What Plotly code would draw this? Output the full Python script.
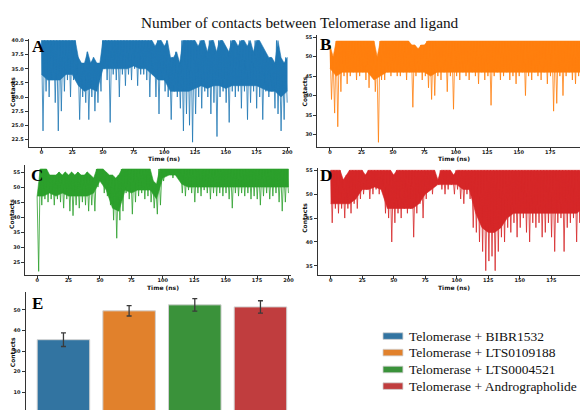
import numpy as np
import plotly.graph_objects as go

W, H = 583, 410

# ---------------- data ----------------
# Time series: per 2.5-ns window, the upper and lower contact counts
time_start_ns, time_end_ns = 0, 200

hi_A = [40, 40, 40, 40, 40, 40, 40, 40, 40, 40, 40, 40, 37, 36, 36, 38, 36, 37, 36, 36,
        40, 40, 40, 40, 40, 40, 40, 40, 40, 40, 40, 40, 40, 40, 40, 40, 40, 39, 40, 40,
        39, 40, 37, 37, 38, 36, 40, 40, 40, 40, 40, 39, 40, 40, 38, 40, 40, 38, 40, 40,
        39, 38, 40, 40, 39, 40, 40, 39, 40, 38, 40, 40, 39, 38, 37, 37, 36, 40, 37, 36, 37]
lo_A = [24, 31, 30, 33, 29, 24, 27.5, 31, 33, 30, 33, 34, 26, 30, 29, 26, 30, 27.5, 29, 31,
        35, 33, 25.5, 34, 33, 30, 34, 32, 34, 33, 35, 32, 34, 34, 33, 30, 34, 30, 27, 33,
        31, 30, 26, 31, 30, 28, 24, 27, 25, 22, 27, 30, 28, 31, 30, 27, 29, 23, 30, 31,
        29, 25.5, 31, 30, 31, 28, 31, 26, 29, 31, 28, 30, 26, 31, 30, 31, 28, 27, 24, 26, 29]
# lower edge of the dense band, every 5 ns
core_A = [34, 33, 33, 33, 34, 34, 32, 31, 31.5, 31, 35, 35, 35, 35, 35, 35.5, 35, 35, 34, 33,
          33, 31, 31, 31, 31, 31.5, 32, 31.5, 32, 32, 31.5, 32, 32, 32, 32, 32, 31.5, 31, 31,
          30, 31]

hi_B = [53, 50, 54, 54, 54, 54, 54, 54, 54, 54, 54, 54, 54, 54, 54, 50, 54, 54, 54, 54,
        54, 54, 54, 54, 54, 54, 53, 53, 52, 53, 53, 54, 54, 54, 54, 54, 54, 54, 54, 54,
        54, 54, 54, 54, 54, 54, 54, 54, 54, 54, 54, 54, 54, 54, 54, 54, 54, 54, 54, 54,
        54, 54, 54, 54, 54, 54, 54, 54, 54, 54, 54, 54, 54, 54, 54, 54, 54, 54, 54, 54, 54]
lo_B = [39, 35.5, 32, 41, 45, 43, 45, 46, 44, 45, 46, 44, 42, 46, 41, 28, 44, 44, 46, 45,
        46, 45, 45, 46, 44, 46, 37, 45, 46, 44, 45, 42, 39, 40, 45, 44, 46, 41, 45, 36.5,
        45, 44, 46, 45, 44, 46, 45, 43, 46, 44, 45, 37.5, 45, 46, 44, 45, 46, 44, 45, 43,
        45, 46, 40, 45, 44, 46, 45, 44, 46, 43, 45, 36, 38, 45, 40, 45, 46, 44, 43, 45, 44]
core_B = [47, 45, 46, 46, 46, 46, 46, 44, 45, 46, 46, 46, 46, 46, 46, 46, 45, 46, 46, 46,
          46, 46, 46, 46, 46, 46, 46, 46, 46, 46, 46, 46, 46, 46, 46, 46, 46, 46, 46, 46, 46]

hi_C = [47, 56, 56, 56, 54, 54, 54, 55, 54, 55, 54, 55, 54, 55, 54, 54, 55, 54, 53, 56,
        56, 56, 55, 54, 54, 53, 54, 56, 56, 56, 56, 56, 56, 56, 56, 56, 56, 52, 51, 56,
        56, 56, 56, 56, 56, 56, 56, 56, 56, 56, 56, 56, 56, 56, 56, 56, 56, 56, 56, 56,
        56, 56, 56, 56, 56, 56, 56, 56, 56, 56, 56, 56, 56, 56, 56, 56, 56, 56, 56, 56, 56]
lo_C = [22, 44, 46, 45, 46, 44, 46, 45, 43, 46, 42, 40.5, 44, 43, 45, 44, 42, 44, 42, 50,
        52, 48, 47, 44, 39, 33, 39, 42, 48, 46, 41, 45, 47, 48, 46, 47, 45, 43, 41, 44,
        52, 54, 54, 53, 54, 53, 48, 47, 49, 48, 45, 48, 47, 49, 48, 46, 48, 47, 48, 47,
        48, 46, 43, 48, 47, 48, 47, 48, 46, 47, 46, 44, 47, 48, 46, 47, 48, 45, 42, 45, 48]
core_C = [47, 47, 48, 47, 48, 47, 47, 47, 47, 48, 52, 49, 43, 42, 49, 48, 49, 49, 49, 46,
          53, 54, 54, 51, 50, 50, 50, 50, 50, 50, 50, 50, 50, 50, 50, 50, 50, 50, 50, 50, 50]

hi_D = [55, 55, 55, 55, 53, 54, 55, 55, 55, 55, 55, 54, 55, 55, 55, 55, 55, 55, 55, 55,
        54, 55, 55, 55, 55, 55, 55, 55, 55, 55, 55, 55, 55, 55, 53, 55, 55, 55, 55, 54,
        55, 55, 55, 55, 55, 55, 55, 55, 55, 55, 55, 55, 55, 55, 55, 55, 55, 55, 55, 55,
        55, 55, 55, 55, 55, 55, 55, 55, 55, 55, 55, 55, 55, 55, 55, 55, 55, 55, 55, 55, 55]
lo_D = [44, 47, 46, 47, 45, 47, 46, 48, 47, 49, 50, 51, 49, 50, 51, 50, 51, 46, 45, 40,
        44, 46, 45, 47, 46, 47, 41, 46, 48, 45, 49, 51, 50, 52, 52, 51, 50, 51, 52, 50,
        51, 49, 48, 50, 49, 43, 42, 40, 38, 34, 36, 37, 34, 38, 41, 40, 43, 42, 44, 41,
        43, 45, 42, 40, 44, 43, 44, 41, 42, 44, 41, 38, 44, 45, 38, 43, 44, 45, 40, 44, 45]
core_D = [48, 48, 48, 48, 49, 51, 51, 51.5, 51, 47, 47, 47, 47, 47, 48, 50, 51, 52, 52, 52,
          52, 51, 51, 46, 43, 42, 42, 43, 45, 46, 46, 46, 46, 46, 46, 46, 46, 46, 46, 46, 47]

x_ticks = [0, 25, 50, 75, 100, 125, 150, 175, 200]

# Bar panel
ligands = ["Telomerase + BIBR1532", "Telomerase + LTS0109188",
           "Telomerase + LTS0004521", "Telomerase + Andrographolide"]
mean_contacts = [35.5, 49.5, 52.4, 51.4]
sd_contacts = [3.3, 2.5, 3.0, 3.0]

line_colors = ["#1f77b4", "#ff7f0e", "#2ca02c", "#d62728"]
bar_colors = ["#3274a1", "#e1812c", "#3a923a", "#c03d3e"]
panel_letters = ["A", "B", "C", "D", "E"]


# ---------------- helpers ----------------
def xd(a, b):
    return [a / W, b / W]


def yd(top, bottom):
    return [1 - bottom / H, 1 - top / H]


def zigzag(hi, lo):
    ys = []
    for h, l in zip(hi, lo):
        ys += [h, l]
    xs = np.linspace(time_start_ns, time_end_ns, len(ys))
    return xs, ys


def band(hi, core):
    t_hi = np.linspace(time_start_ns, time_end_ns, len(hi))
    t_core = np.linspace(time_start_ns, time_end_ns, len(core))
    xs = list(t_hi) + list(t_core[::-1])
    ys = list(hi) + list(core[::-1])
    return xs, ys


tickfont = dict(family="DejaVu Sans", size=5, color="#222", weight="bold")
axis_common = dict(showline=True, linecolor="#333", linewidth=1, ticks="outside",
                   ticklen=3, tickwidth=0.8, tickcolor="#333", tickfont=tickfont,
                   showgrid=False, zeroline=False)

fig = go.Figure()

series = [(hi_A, lo_A, core_A), (hi_B, lo_B, core_B),
          (hi_C, lo_C, core_C), (hi_D, lo_D, core_D)]
for i, (hi, lo, core) in enumerate(series):
    suffix = "" if i == 0 else str(i + 1)
    bx, by = band(hi, core)
    fig.add_trace(go.Scatter(x=bx, y=by, mode="lines", fill="toself",
                             fillcolor=line_colors[i],
                             line=dict(color=line_colors[i], width=0.6),
                             xaxis="x" + suffix, yaxis="y" + suffix,
                             showlegend=False, hoverinfo="skip"))
    xs, ys = zigzag(hi, lo)
    fig.add_trace(go.Scatter(x=xs, y=ys, mode="lines",
                             line=dict(color=line_colors[i], width=0.8),
                             xaxis="x" + suffix, yaxis="y" + suffix,
                             showlegend=False, hoverinfo="skip"))

fig.add_trace(go.Bar(x=list(range(len(ligands))), y=mean_contacts,
                     marker=dict(color=bar_colors, line=dict(color="#d0d0d0", width=1)),
                     width=0.8,
                     error_y=dict(type="data", array=sd_contacts, color="#3a3a3a",
                                  thickness=1.3, width=2.5),
                     xaxis="x5", yaxis="y5", showlegend=False, hoverinfo="skip"))

# ---------------- layout ----------------
panels = {
    "1": (xd(29, 292), yd(37, 146), [-10.3, 202.7], [21.1, 40.3],
          [22.5, 25, 27.5, 30, 32.5, 35, 37.5, 40], ".1f"),
    "2": (xd(319, 583), yd(33, 145.7), [-10.0, 198.6], [26.8, 55.6],
          [30, 35, 40, 45, 50, 55], "d"),
    "3": (xd(25.3, 293), yd(163.3, 274.3), [-9.5, 202.4], [20.8, 57.5],
          [25, 30, 35, 40, 45, 50, 55], "d"),
    "4": (xd(319.3, 583), yd(166.7, 274.3), [-10.3, 197.7], [33.1, 55.5],
          [35, 40, 45, 50, 55], "d"),
}

layout = dict(width=W, height=H, margin=dict(l=0, r=0, t=0, b=0),
              paper_bgcolor="white", plot_bgcolor="white", showlegend=False,
              bargap=0.2)

for key, (xdom, ydom, xr, yr, yt, yf) in panels.items():
    xname = "xaxis" if key == "1" else "xaxis" + key
    yname = "yaxis" if key == "1" else "yaxis" + key
    anchor_x = "y" if key == "1" else "y" + key
    anchor_y = "x" if key == "1" else "x" + key
    layout[xname] = dict(domain=xdom, range=xr, anchor=anchor_x, tickvals=x_ticks,
                         ticklabelstandoff=-3, **axis_common)
    layout[yname] = dict(domain=ydom, range=yr, anchor=anchor_y, tickvals=yt,
                         tickformat=yf, **axis_common)

layout["xaxis5"] = dict(domain=xd(25.7, 301.4), range=[-0.577, 3.6], anchor="y5",
                        visible=False)
layout["yaxis5"] = dict(domain=yd(291.7, 410), range=[1.4, 58.5], anchor="x5",
                        tickvals=[10, 20, 30, 40, 50], **axis_common)

fig.update_layout(**layout)

# ---------------- text ----------------
ann = []
ann.append(dict(text="Number of contacts between Telomerase and ligand",
                x=302 / W, y=1 - 21 / H, xref="paper", yref="paper",
                showarrow=False, xanchor="center", yanchor="middle",
                font=dict(family="Liberation Serif", size=15.3, color="#111")))

letter_pos = [(30, 45), (320, 43), (29, 174), (320, 174), (30, 303)]
for letter, (px, py) in zip(panel_letters, letter_pos):
    ann.append(dict(text="<b>%s</b>" % letter, x=px / W, y=1 - py / H,
                    xref="paper", yref="paper", showarrow=False,
                    xanchor="left", yanchor="middle",
                    font=dict(family="Liberation Serif", size=17, color="black")))

axis_title_font = dict(family="DejaVu Sans", size=6, color="#111", weight="bold")
for cx, cy in [(165, 157.5), (456, 157.5), (164, 286.5), (456, 286.5)]:
    ann.append(dict(text="Time (ns)", x=cx / W, y=1 - cy / H, xref="paper",
                    yref="paper", showarrow=False, xanchor="center",
                    yanchor="middle", font=axis_title_font))
for cx, cy in [(12.5, 90), (306.5, 90), (12, 213), (306.5, 217), (12, 352)]:
    ann.append(dict(text="Contacts", x=cx / W, y=1 - cy / H, xref="paper",
                    yref="paper", showarrow=False, xanchor="center",
                    yanchor="middle", textangle=-90, font=axis_title_font))

# legend (manual, wide colour patches like the original)
shapes = []
legend_rows = [335.7, 352.3, 369.3, 386]
for lab, col, ry in zip(ligands, bar_colors, legend_rows):
    shapes.append(dict(type="rect", xref="paper", yref="paper",
                       x0=385 / W, x1=405 / W, y0=1 - (ry + 3.3) / H,
                       y1=1 - (ry - 3.3) / H, fillcolor=col,
                       line=dict(color="#cfcfcf", width=0.8)))
    ann.append(dict(text=lab, x=409 / W, y=1 - ry / H, xref="paper", yref="paper",
                    showarrow=False, xanchor="left", yanchor="middle",
                    font=dict(family="Liberation Serif", size=13.5, color="#111")))

fig.update_layout(annotations=ann, shapes=shapes)

fig.write_html("out.html", config={"displayModeBar": False},
               post_script="document.body.style.margin='0';")
